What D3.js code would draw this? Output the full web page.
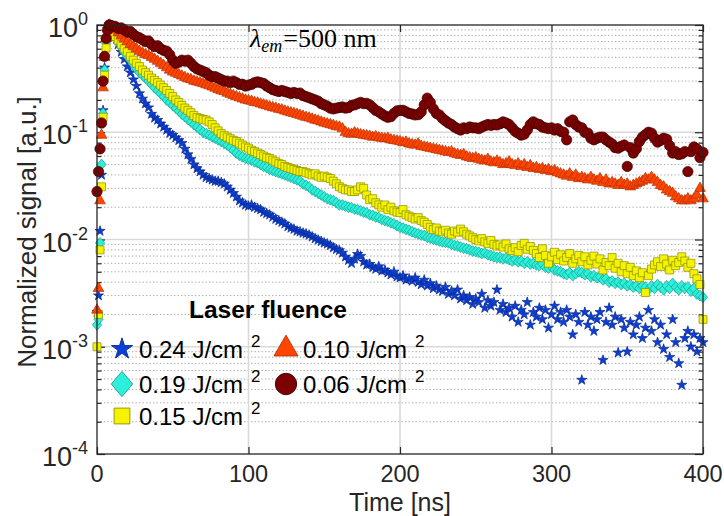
<!DOCTYPE html>
<html><head><meta charset="utf-8">
<script src="https://cdn.jsdelivr.net/npm/d3@7"></script>
<style>
body{margin:0;background:#fff;}
svg{display:block;font-family:"Liberation Sans",Arial,Helvetica,sans-serif;}
</style>
</head><body>
<svg id="chart" width="724" height="516"></svg>
<script>
// ---------------- DATA ----------------
const xTickValues = [0, 100, 200, 300, 400];
const yTickExponents = [0, -1, -2, -3, -4];
const riseTimes = [0, 1, 2, 3, 4, 5, 6, 7, 8, 9];   // ns
const decayStart = 10, decayStep = 2;               // ns (decay samples every 2 ns up to 400 ns)
const seriesLabels = ["0.24 J/cm", "0.19 J/cm", "0.15 J/cm", "0.10 J/cm", "0.06 J/cm"];
const legendTitle = "Laser fluence";
const annotationParts = ["λ", "em", "=500 nm"];
const xLabel = "Time [ns]";
const yLabel = "Normalized signal [a.u.]";

// 0.24 J/cm2 (blue stars)
const rise024 = [0.0021, 0.003, 0.012, 0.04, 0.16, 0.4, 0.7, 0.92, 1.0, 0.97];
const decay024 = [0.9,0.78,0.66,0.56,0.48,0.41,0.36,0.31,0.27,0.23,
0.205,0.185,0.17,0.148,0.136,0.13,0.12,0.112,0.105,0.098,
0.094,0.089,0.084,0.079,0.07,0.062,0.056,0.05,0.046,0.043,
0.04,0.038,0.037,0.036,0.035,0.035,0.034,0.033,0.031,0.029,
0.027,0.025,0.023,0.022,0.021,0.0205,0.021,0.02,0.0195,0.019,
0.018,0.0175,0.017,0.0162,0.0155,0.015,0.0145,0.014,0.0132,0.0128,
0.0125,0.012,0.0118,0.0115,0.0113,0.011,0.0106,0.0102,0.0099,0.0096,
0.0093,0.0091,0.0088,0.0084,0.0081,0.0079,0.0075,0.0069,0.0064,0.006,
0.0066,0.0073,0.007,0.0062,0.0058,0.0059,0.0055,0.0053,0.0056,0.0051,
0.0052,0.0049,0.0047,0.005,0.0045,0.0044,0.0046,0.0042,0.0043,0.0041,
0.0044,0.004,0.0038,0.0042,0.0037,0.0039,0.0035,0.0037,0.0034,0.0033,
0.0036,0.0031,0.0033,0.003,0.0034,0.0028,0.003,0.0027,0.0029,0.0025,
0.0028,0.0026,0.0031,0.0023,0.0027,0.0024,0.0026,0.0034,0.0022,0.0025,
0.0021,0.0023,0.0019,0.0024,0.0017,0.0022,0.002,0.0026,0.0016,0.0021,
0.0019,0.0023,0.0018,0.0022,0.0015,0.002,0.0024,0.0018,0.0021,0.0017,
0.0022,0.0019,0.0013,0.002,0.0017,0.00049,0.0021,0.0016,0.0019,0.0014,
0.0018,0.0021,0.00075,0.0017,0.0023,0.0016,0.0019,0.00088,0.0018,0.0015,
0.0009,0.0017,0.0013,0.0016,0.0019,0.0012,0.0015,0.0022,0.0014,0.0018,
0.0011,0.0016,0.00095,0.0013,0.0008,0.0018,0.0011,0.0007,0.00044,0.0012,
0.0014,0.001,0.0013,0.0009,0.0012,0.0011];

// 0.19 J/cm2 (cyan diamonds)
const rise019 = [0.0016, 0.0018, 0.0093, 0.05, 0.15, 0.38, 0.68, 0.9, 0.97, 0.93];
const decay019 = [0.85,0.77,0.69,0.62,0.56,0.51,0.47,0.43,0.39,0.36,
0.34,0.32,0.3,0.28,0.26,0.245,0.23,0.215,0.2,0.19,
0.178,0.168,0.158,0.148,0.14,0.132,0.125,0.118,0.112,0.106,
0.1,0.097,0.094,0.091,0.088,0.085,0.082,0.079,0.076,0.072,
0.068,0.064,0.061,0.059,0.057,0.056,0.055,0.053,0.052,0.05,
0.048,0.047,0.045,0.044,0.043,0.042,0.041,0.04,0.039,0.038,
0.037,0.036,0.035,0.033,0.032,0.031,0.029,0.028,0.027,0.026,
0.025,0.024,0.0235,0.023,0.022,0.021,0.021,0.0205,0.02,0.0198,
0.0192,0.019,0.0185,0.018,0.0177,0.017,0.0168,0.0162,0.016,0.0154,
0.015,0.0148,0.0143,0.014,0.0135,0.013,0.0128,0.0124,0.0122,0.0118,
0.0115,0.0113,0.011,0.0109,0.0105,0.0103,0.0101,0.0099,0.0097,0.0095,
0.0094,0.0093,0.009,0.0088,0.0087,0.0085,0.0083,0.0082,0.008,0.0078,
0.0077,0.0076,0.0074,0.0075,0.0072,0.0071,0.0069,0.0068,0.0068,0.0066,
0.0067,0.0065,0.0063,0.0065,0.0062,0.0063,0.006,0.0062,0.0059,0.006,
0.0058,0.0057,0.0059,0.0055,0.0054,0.0056,0.0052,0.0051,0.005,0.0048,
0.0047,0.0049,0.0046,0.0048,0.005,0.0049,0.0047,0.0048,0.0045,0.0046,
0.0044,0.0045,0.0042,0.0043,0.004,0.0041,0.0039,0.004,0.0038,0.0039,
0.0037,0.0038,0.0036,0.0037,0.0035,0.0037,0.0036,0.0034,0.0037,0.0035,
0.0038,0.0036,0.0034,0.0037,0.0035,0.0039,0.0036,0.0034,0.0037,0.0035,
0.0036,0.0033,0.0035,0.0031,0.003,0.0029];

// 0.15 J/cm2 (yellow squares)
const rise015 = [0.001, 0.002, 0.008, 0.031, 0.138, 0.34, 0.61, 0.85, 0.97, 0.95];
const decay015 = [0.85,0.78,0.72,0.66,0.6,0.56,0.51,0.47,0.44,0.41,
0.38,0.36,0.34,0.32,0.305,0.29,0.275,0.26,0.245,0.23,
0.215,0.2,0.19,0.178,0.168,0.16,0.152,0.143,0.137,0.134,
0.132,0.13,0.125,0.118,0.11,0.103,0.097,0.093,0.09,0.087,
0.084,0.082,0.079,0.076,0.073,0.071,0.068,0.066,0.064,0.062,
0.06,0.058,0.057,0.055,0.053,0.051,0.05,0.048,0.047,0.046,
0.045,0.044,0.043,0.043,0.042,0.041,0.04,0.041,0.039,0.038,
0.039,0.038,0.037,0.035,0.033,0.031,0.03,0.029,0.029,0.028,
0.028,0.029,0.031,0.03,0.026,0.0235,0.024,0.022,0.021,0.02,
0.021,0.019,0.02,0.0185,0.018,0.0178,0.019,0.017,0.0165,0.016,
0.0155,0.016,0.015,0.0145,0.0138,0.013,0.0124,0.0128,0.012,0.0118,
0.0122,0.0115,0.0112,0.012,0.0117,0.0125,0.0118,0.0112,0.0108,0.0104,
0.01,0.0097,0.0102,0.0095,0.0092,0.0098,0.009,0.0087,0.0089,0.0085,
0.0091,0.0082,0.0079,0.0084,0.0077,0.0088,0.0092,0.0081,0.0086,0.0079,
0.0074,0.0068,0.0082,0.0071,0.006,0.0069,0.0076,0.0065,0.0072,0.0063,
0.0068,0.0074,0.006,0.0066,0.0071,0.0062,0.0069,0.0058,0.0064,0.007,
0.0059,0.0066,0.0052,0.0061,0.0057,0.0068,0.0054,0.006,0.005,0.0057,
0.0048,0.0055,0.0046,0.0051,0.0044,0.0049,0.0032,0.0046,0.0053,0.0058,
0.0062,0.0056,0.0066,0.0059,0.0052,0.0064,0.0057,0.0061,0.0069,0.0063,
0.0055,0.006,0.0048,0.0043,0.0038,0.0018];

// 0.10 J/cm2 (orange-red triangles)
const rise010 = [0.0022, 0.0035, 0.023, 0.094, 0.26, 0.5, 0.75, 0.92, 1.0, 0.98];
const decay010 = [0.95,0.9,0.85,0.79,0.74,0.7,0.66,0.63,0.6,0.57,
0.55,0.53,0.52,0.5,0.48,0.46,0.44,0.42,0.4,0.38,
0.365,0.355,0.345,0.335,0.325,0.315,0.31,0.3,0.295,0.29,
0.285,0.278,0.272,0.265,0.258,0.25,0.244,0.24,0.232,0.226,
0.22,0.215,0.21,0.205,0.2,0.197,0.195,0.19,0.188,0.184,
0.18,0.177,0.173,0.17,0.168,0.164,0.162,0.158,0.155,0.152,
0.15,0.147,0.144,0.141,0.138,0.136,0.133,0.13,0.128,0.125,
0.122,0.12,0.118,0.116,0.113,0.112,0.108,0.1,0.097,0.096,
0.099,0.097,0.095,0.094,0.093,0.092,0.09,0.091,0.089,0.088,
0.087,0.088,0.085,0.084,0.083,0.082,0.08,0.081,0.078,0.077,
0.076,0.078,0.074,0.073,0.072,0.071,0.07,0.069,0.068,0.067,
0.066,0.065,0.066,0.063,0.062,0.061,0.062,0.059,0.058,0.057,
0.058,0.056,0.055,0.054,0.056,0.053,0.052,0.054,0.052,0.05,
0.051,0.053,0.05,0.049,0.051,0.048,0.05,0.047,0.049,0.046,
0.047,0.045,0.046,0.044,0.045,0.043,0.044,0.042,0.041,0.04,
0.039,0.041,0.038,0.04,0.037,0.038,0.037,0.036,0.038,0.036,
0.035,0.037,0.034,0.036,0.033,0.034,0.033,0.032,0.034,0.032,
0.033,0.031,0.032,0.033,0.034,0.035,0.037,0.036,0.038,0.036,
0.034,0.032,0.031,0.029,0.028,0.027,0.025,0.024,0.023,0.023,
0.024,0.023,0.024,0.026,0.03,0.024];

// 0.06 J/cm2 (dark red circles)
const rise006 = [0.028, 0.043, 0.07, 0.122, 0.3, 0.51, 0.75, 0.9, 1.0, 0.99];
const decay006 = [0.98,0.97,0.93,0.94,0.9,0.86,0.87,0.82,0.78,0.76,
0.73,0.7,0.71,0.66,0.63,0.64,0.6,0.58,0.57,0.53,
0.47,0.44,0.45,0.47,0.46,0.47,0.44,0.41,0.39,0.38,
0.37,0.36,0.34,0.33,0.33,0.32,0.31,0.3,0.3,0.29,
0.3,0.29,0.28,0.28,0.27,0.275,0.28,0.29,0.295,0.29,
0.285,0.27,0.26,0.25,0.245,0.24,0.245,0.24,0.235,0.23,
0.235,0.23,0.232,0.22,0.215,0.21,0.205,0.2,0.195,0.185,
0.18,0.175,0.168,0.165,0.168,0.17,0.172,0.168,0.17,0.178,
0.18,0.185,0.19,0.185,0.186,0.18,0.17,0.16,0.155,0.148,
0.142,0.138,0.14,0.15,0.158,0.16,0.16,0.155,0.15,0.148,
0.145,0.146,0.155,0.18,0.208,0.19,0.165,0.15,0.145,0.135,
0.128,0.122,0.118,0.112,0.108,0.105,0.11,0.108,0.112,0.11,
0.11,0.108,0.112,0.115,0.118,0.116,0.118,0.117,0.12,0.125,
0.122,0.118,0.11,0.102,0.098,0.094,0.096,0.105,0.118,0.125,
0.12,0.118,0.112,0.11,0.108,0.11,0.105,0.108,0.102,0.1,
0.085,0.125,0.13,0.118,0.112,0.11,0.1,0.098,0.088,0.085,
0.088,0.09,0.09,0.085,0.081,0.078,0.072,0.071,0.074,0.076,
0.048,0.072,0.064,0.07,0.082,0.09,0.095,0.1,0.098,0.088,
0.081,0.084,0.088,0.086,0.075,0.064,0.066,0.062,0.063,0.066,
0.043,0.066,0.073,0.07,0.058,0.065];

// ---------------- CHART ----------------
const W = 724, H = 516;
const M = {left: 97, right: 21, top: 25, bottom: 62};
const svg = d3.select("#chart");
const ink = "#262626";

const x = d3.scaleLinear().domain([0, 400]).range([M.left, W - M.right]);
const y = d3.scaleLog().domain([1e-4, 1]).range([H - M.bottom, M.top]);

const majors = yTickExponents.map(e => Math.pow(10, e));
const minors = [];
yTickExponents.slice(1).forEach(e => { for (let k = 2; k <= 9; k++) minors.push(k * Math.pow(10, e)); });

// grid
const grid = svg.append("g");
grid.selectAll(".ymin").data(minors).join("line")
  .attr("x1", M.left).attr("x2", W - M.right)
  .attr("y1", d => y(d)).attr("y2", d => y(d))
  .attr("stroke", "#a8a8a8").attr("stroke-width", 1).attr("stroke-dasharray", "1.3,2.2");
grid.selectAll(".ymaj").data(majors.slice(1, 4)).join("line")
  .attr("x1", M.left).attr("x2", W - M.right)
  .attr("y1", d => y(d)).attr("y2", d => y(d))
  .attr("stroke", "#d9d9d9").attr("stroke-width", 1.6);
grid.selectAll(".xmaj").data(xTickValues.slice(1, 4)).join("line")
  .attr("x1", d => x(d)).attr("x2", d => x(d))
  .attr("y1", M.top).attr("y2", H - M.bottom)
  .attr("stroke", "#d9d9d9").attr("stroke-width", 1.6);

// axes ticks (inside)
function tickAxis(axis, tx, ty) {
  const g = svg.append("g").attr("transform", `translate(${tx},${ty})`).call(axis);
  g.select(".domain").remove();
  g.selectAll("line").attr("stroke", ink).attr("stroke-width", 1.2);
  g.selectAll("text").remove();
}
tickAxis(d3.axisLeft(y).tickValues(majors).tickSizeInner(-8).tickSizeOuter(0).tickFormat(""), M.left, 0);
tickAxis(d3.axisLeft(y).tickValues(minors).tickSizeInner(-4.5).tickSizeOuter(0).tickFormat(""), M.left, 0);
tickAxis(d3.axisRight(y).tickValues(majors).tickSizeInner(-8).tickSizeOuter(0).tickFormat(""), W - M.right, 0);
tickAxis(d3.axisRight(y).tickValues(minors).tickSizeInner(-4.5).tickSizeOuter(0).tickFormat(""), W - M.right, 0);
tickAxis(d3.axisBottom(x).tickValues(xTickValues).tickSizeInner(-7).tickSizeOuter(0).tickFormat(""), 0, H - M.bottom);
tickAxis(d3.axisTop(x).tickValues(xTickValues).tickSizeInner(-7).tickSizeOuter(0).tickFormat(""), 0, M.top);

// symbols
const tallDiamond = {
  draw(ctx, size) {
    const a = Math.sqrt(size / 1.7), b = 0.85 * a;
    ctx.moveTo(0, -a); ctx.lineTo(b, 0); ctx.lineTo(0, a); ctx.lineTo(-b, 0); ctx.closePath();
  }
};
const styles = [
  {type: d3.symbolStar,     size: 32,  lsize: 140, fill: "#0b3fd8", stroke: "#082a8e"},
  {type: tallDiamond,       size: 50,  lsize: 270, fill: "#2cf0d9", stroke: "#17a092"},
  {type: d3.symbolSquare,   size: 64,  lsize: 250, fill: "#f4f400", stroke: "#8e8e06"},
  {type: d3.symbolTriangle, size: 50,  lsize: 250, fill: "#ff4500", stroke: "#b53100"},
  {type: d3.symbolCircle,   size: 84,  lsize: 360, fill: "#7c0000", stroke: "#3e0000"}
];
const rises = [rise024, rise019, rise015, rise010, rise006];
const decays = [decay024, decay019, decay015, decay010, decay006];

const plot = svg.append("g");
rises.forEach((r, si) => {
  const pts = r.map((v, i) => [riseTimes[i], v])
    .concat(decays[si].map((v, i) => [decayStart + decayStep * i, v]));
  const st = styles[si];
  plot.append("g").selectAll("path").data(pts).join("path")
    .attr("transform", d => `translate(${x(d[0])},${y(d[1])})`)
    .attr("d", d3.symbol().type(st.type).size(st.size))
    .attr("fill", st.fill).attr("stroke", st.stroke).attr("stroke-width", 0.7);
});

// box
svg.append("rect").attr("x", M.left).attr("y", M.top)
  .attr("width", W - M.left - M.right).attr("height", H - M.top - M.bottom)
  .attr("fill", "none").attr("stroke", ink).attr("stroke-width", 1.3);

// tick labels
svg.append("g").selectAll("text").data(xTickValues).join("text")
  .attr("x", d => x(d)).attr("y", H - M.bottom + 28)
  .attr("text-anchor", "middle").attr("font-size", 23.5).attr("fill", ink)
  .text(d => d);
const yl = svg.append("g").selectAll("text").data(yTickExponents).join("text")
  .attr("x", M.left - 9).attr("y", d => y(Math.pow(10, d)) + 12)
  .attr("text-anchor", "end").attr("font-size", 27).attr("fill", ink);
yl.append("tspan").text("10");
yl.append("tspan").attr("font-size", 18).attr("dy", -12).text(d => String(d));

// axis labels
svg.append("text").attr("x", (M.left + W - M.right) / 2).attr("y", H - 5)
  .attr("text-anchor", "middle").attr("font-size", 25).attr("fill", ink).text(xLabel);
svg.append("text").attr("transform", `translate(36,232) rotate(-90)`)
  .attr("text-anchor", "middle").attr("font-size", 26).attr("fill", ink).text(yLabel);

// annotation
const ann = svg.append("text").attr("x", 250).attr("y", 47)
  .attr("font-family", "'Liberation Serif','Times New Roman',serif").attr("font-size", 26).attr("fill", "#000");
ann.append("tspan").attr("font-style", "italic").text(annotationParts[0]);
ann.append("tspan").attr("font-style", "italic").attr("font-size", 18).attr("dy", 5).text(annotationParts[1]);
ann.append("tspan").attr("dy", -5).attr("dx", 1).text(annotationParts[2]);

// legend
const leg = svg.append("g");
leg.append("text").attr("x", 268).attr("y", 318).attr("text-anchor", "middle")
  .attr("font-weight", "bold").attr("font-size", 24.5).attr("fill", "#000").text(legendTitle);
const legPos = [[122, 349], [122, 384], [122, 416], [286, 349], [286, 384]];
styles.forEach((st, i) => {
  const [lx, ly] = legPos[i];
  leg.append("path").attr("transform", `translate(${lx},${ly})`)
    .attr("d", d3.symbol().type(st.type).size(st.lsize)())
    .attr("fill", st.fill).attr("stroke", st.stroke).attr("stroke-width", 0.9);
  const t = leg.append("text").attr("x", lx + 17).attr("y", ly + 9)
    .attr("font-size", 24).attr("fill", "#000");
  t.append("tspan").text(seriesLabels[i]);
  t.append("tspan").attr("font-size", 17).attr("dx", 8).attr("dy", -11).text("2");
});
</script>
</body></html>
